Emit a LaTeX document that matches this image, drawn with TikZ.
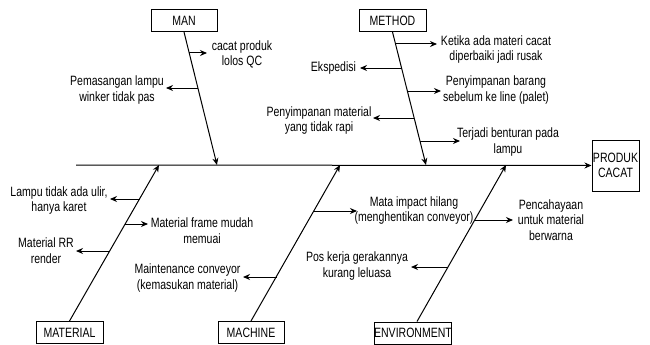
\documentclass[tikz,border=0pt]{standalone}
\usepackage{fontspec}
\setmainfont{Liberation Sans}[FakeStretch=0.78]
\usetikzlibrary{arrows.meta}
\begin{document}
\begin{tikzpicture}[x=1pt,y=-1pt,
  lbl/.style={font=\fontsize{13.5}{15.5}\selectfont, align=center, inner sep=0pt},
  catbox/.style={draw, line width=1pt, font=\fontsize{13.5}{15.5}\selectfont, align=center, inner sep=0pt, minimum height=22pt},
  bone/.style={line width=1pt, -{Stealth[length=7pt,width=6pt]}},
  twig/.style={line width=1pt, -{Stealth[length=7pt,width=6pt]}}
]
\useasboundingbox[fill=white] (0,0) rectangle (650,345);

% category boxes
\node[catbox, minimum width=66pt] (man) at (184,20.5) {MAN};
\node[catbox, minimum width=67pt] (method) at (392.5,20.5) {METHOD};
\node[catbox, minimum width=67pt] (material) at (69.5,332.5) {MATERIAL};
\node[catbox, minimum width=66pt] (machine) at (251,332.5) {MACHINE};
\node[catbox, minimum width=76pt] (env) at (413,333) {ENVIRONMENT};
\node[catbox, minimum width=47pt, minimum height=51pt] (prod) at (615.5,165.5) {PRODUK\\CACAT};

% spine
\coordinate (spineS) at (76,165);
\draw[bone] (spineS) -- (prod.west);

% bone ends on spine
\coordinate (manE) at (217,165);
\coordinate (methodE) at (426,165);
\coordinate (materialE) at (159,165);
\coordinate (machineE) at (340,165);
\coordinate (envE) at (506,165);

\draw[bone] (man.south) -- (manE);
\draw[bone] (method.south) -- (methodE);
\draw[bone] (material.north) -- (materialE);
\draw[bone] (machine.north) -- (machineE);
\draw[bone] ([xshift=4pt]env.north) -- (envE);

% cause labels
\node[lbl] (t1) at (242,54.5) {cacat produk\\lolos QC};
\node[lbl] (t2) at (117,90) {Pemasangan lampu\\winker tidak pas};
\node[lbl] (t3) at (496,49.5) {Ketika ada materi cacat\\diperbaiki jadi rusak};
\node[lbl] (t4) at (333.5,68) {Ekspedisi};
\node[lbl] (t5) at (496,90) {Penyimpanan barang\\sebelum ke line (palet)};
\node[lbl] (t6) at (319,120.5) {Penyimpanan material\\yang tidak rapi};
\node[lbl] (t7) at (508,142) {Terjadi benturan pada\\lampu};
\node[lbl] (t8) at (59,200.5) {Lampu tidak ada ulir,\\hanya karet};
\node[lbl] (t9) at (202,230.5) {Material frame mudah\\memuai};
\node[lbl] (t10) at (46,250.5) {Material RR\\render};
\node[lbl] (t11) at (187.5,278) {Maintenance conveyor\\(kemasukan material)};
\node[lbl] (t12) at (414,210.5) {Mata impact hilang\\(menghentikan conveyor)};
\node[lbl] (t13) at (357,266) {Pos kerja gerakannya\\kurang leluasa};
\node[lbl] (t14) at (551,220) {Pencahayaan\\untuk material\\berwarna};

% twig coordinates
\coordinate (a1) at (189.3,53);  \coordinate (e1) at (207,53);
\coordinate (a2) at (198,88);    \coordinate (e2) at (166,88);
\coordinate (a3) at (395.5,44);  \coordinate (e3) at (437,44);
\coordinate (a4) at (401.6,68);  \coordinate (e4) at (360,68);
\coordinate (a5) at (407.5,91);  \coordinate (e5) at (441,91);
\coordinate (a6) at (414.3,118); \coordinate (e6) at (373,118);
\coordinate (a7) at (420.2,141); \coordinate (e7) at (460,141);
\coordinate (a8) at (139.6,199); \coordinate (e8) at (110,199);
\coordinate (a9) at (125.4,224); \coordinate (e9) at (148,224);
\coordinate (a10) at (110,251);  \coordinate (e10) at (76,251);
\coordinate (a11) at (313.9,211);\coordinate (e11) at (357,211);
\coordinate (a12) at (276.5,277);\coordinate (e12) at (243,277);
\coordinate (a13) at (474.8,220);\coordinate (e13) at (513,220);
\coordinate (a14) at (448.2,267);\coordinate (e14) at (411,267);

\foreach \i in {1,...,14} {\draw[twig] (a\i) -- (e\i);}
\end{tikzpicture}
\end{document}
